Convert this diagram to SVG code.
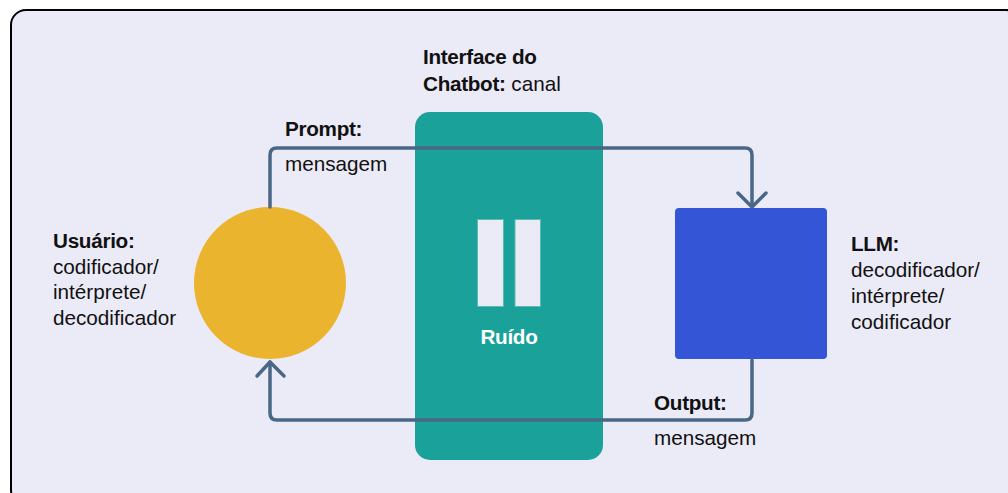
<svg xmlns="http://www.w3.org/2000/svg" width="1008" height="493" viewBox="0 0 1008 493">
<style>
.t{font-family:"Liberation Sans",Arial,sans-serif;font-size:20.7px;fill:#111}
.b{font-weight:bold;letter-spacing:-0.3px}
.c{fill:none;stroke:#4B6786;stroke-width:3.5;stroke-linecap:round;stroke-linejoin:round}
</style>
<rect x="0" y="0" width="1008" height="493" fill="#ffffff"/>
<rect id="frame" x="11" y="10" width="1010" height="495" rx="15" fill="#EBEAF7" stroke="#000" stroke-width="2"/>
<g id="channel">
<rect x="415" y="112" width="188" height="348" rx="15" fill="#1AA199"/>
<rect x="477.5" y="219.5" width="26" height="87" fill="#EBEAF7" stroke="#5FB8B2" stroke-width="1"/>
<rect x="515" y="219.5" width="25.5" height="87" fill="#EBEAF7" stroke="#5FB8B2" stroke-width="1"/>
<text class="t b" x="509" y="344" text-anchor="middle" style="fill:#fff">Ruído</text>
<text class="t b" x="423" y="64">Interface do</text>
<text class="t" x="423" y="91"><tspan class="b">Chatbot:</tspan> canal</text>
</g>
<g id="user">
<circle cx="270" cy="283" r="76" fill="#EAB42F"/>
<text class="t" x="53" y="248"><tspan class="b">Usuário:</tspan><tspan x="53" dy="25.5">codificador/</tspan><tspan x="53" dy="25.5">intérprete/</tspan><tspan x="53" dy="25.5">decodificador</tspan></text>
</g>
<g id="llm">
<rect x="675" y="208" width="152" height="151" rx="4" fill="#3355D6"/>
<text class="t" x="851" y="251"><tspan class="b">LLM:</tspan><tspan x="851" dy="26">decodificador/</tspan><tspan x="851" dy="26">intérprete/</tspan><tspan x="851" dy="26">codificador</tspan></text>
</g>
<g id="connectors">
<path class="c" d="M270 207 V155 Q270 148 277 148 H745 Q752 148 752 155 V206"/>
<path class="c" d="M738 193 L752 207 L766 193"/>
<path class="c" d="M752 360 V413 Q752 420 745 420 H277 Q270 420 270 413 V362"/>
<path class="c" d="M257 376 L270 362 L284 376"/>
<text class="t b" x="285" y="136">Prompt:</text>
<text class="t" x="285" y="171">mensagem</text>
<text class="t b" x="654" y="410">Output:</text>
<text class="t" x="654" y="445">mensagem</text>
</g>
</svg>
